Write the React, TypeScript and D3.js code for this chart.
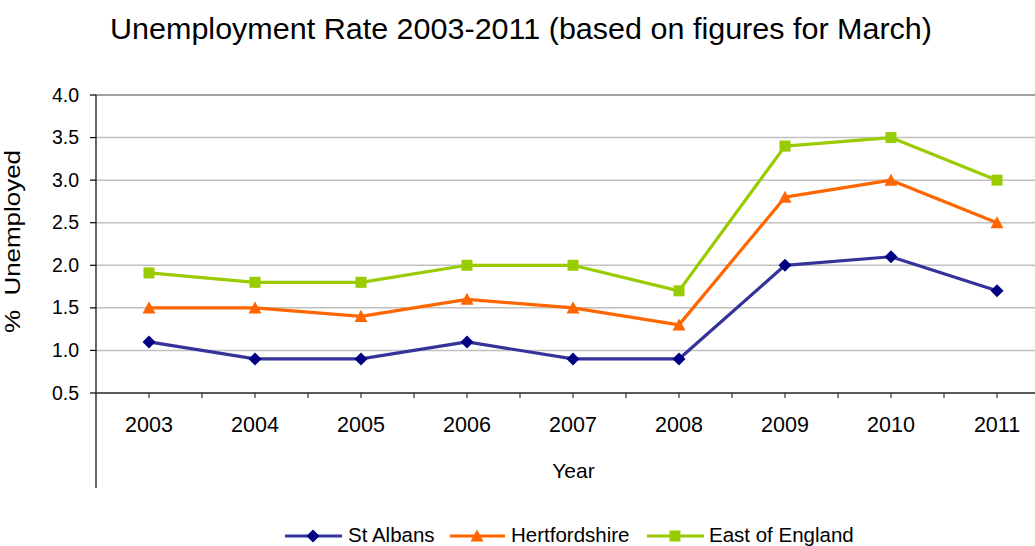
import React from "react";
import * as d3 from "d3";

const years = ["2003", "2004", "2005", "2006", "2007", "2008", "2009", "2010", "2011"];
const stAlbans = [1.1, 0.9, 0.9, 1.1, 0.9, 0.9, 2.0, 2.1, 1.7];
const hertfordshire = [1.5, 1.5, 1.4, 1.6, 1.5, 1.3, 2.8, 3.0, 2.5];
const eastOfEngland = [1.91, 1.8, 1.8, 2.0, 2.0, 1.7, 3.4, 3.5, 3.0];
const yTicks = [0.5, 1.0, 1.5, 2.0, 2.5, 3.0, 3.5, 4.0];

const series = [
  { name: "St Albans", values: stAlbans, line: "#333399", marker: "#000080", shape: "diamond" },
  { name: "Hertfordshire", values: hertfordshire, line: "#FF6600", marker: "#FF6600", shape: "triangle" },
  { name: "East of England", values: eastOfEngland, line: "#99CC00", marker: "#99CC00", shape: "square" },
];

const W = 1035;
const H = 546;
const left = 96;
const band = 106;
const top = 95;
const bottom = 393;
const FONT = "'Liberation Sans', Arial, sans-serif";

function Marker({ shape, x, y, color }: { shape: string; x: number; y: number; color: string }) {
  if (shape === "diamond") {
    const s = 6.5;
    return <path d={`M${x},${y - s}L${x + s},${y}L${x},${y + s}L${x - s},${y}Z`} fill={color} />;
  }
  if (shape === "triangle") {
    const s = 6.5;
    return <path d={`M${x},${y - s}L${x + s},${y + s * 0.85}L${x - s},${y + s * 0.85}Z`} fill={color} />;
  }
  const s = 5.5;
  return <rect x={x - s} y={y - s} width={2 * s} height={2 * s} fill={color} />;
}

export default function App() {
  const x = d3
    .scaleBand<string>()
    .domain(years)
    .range([left, left + band * years.length])
    .padding(0);
  const y = d3.scaleLinear().domain([0.5, 4.0]).range([bottom, top]);
  const cx = (yr: string) => (x(yr) as number) + x.bandwidth() / 2;

  const lineGen = d3
    .line<number>()
    .x((_, i) => cx(years[i]))
    .y((v) => y(v));

  const xTickPositions: number[] = [];
  years.forEach((yr) => {
    xTickPositions.push(cx(yr));
    xTickPositions.push((x(yr) as number) + x.bandwidth());
  });

  const legendItems = [
    { lx1: 285, lx2: 342, mx: 313, tx: 348 },
    { lx1: 450, lx2: 505, mx: 477, tx: 511 },
    { lx1: 647, lx2: 704, mx: 675, tx: 709 },
  ];
  const legendY = 536;

  return (
    <svg
      width={W}
      height={H}
      style={{ position: "absolute", left: 0, top: 0, background: "#fff" }}
      fontFamily={FONT}
    >
      <rect x={0} y={0} width={W} height={H} fill="#fff" />
      <text x={110} y={38.5} fontSize={30} textLength={822} lengthAdjust="spacingAndGlyphs" fill="#000">
        Unemployment Rate 2003-2011 (based on figures for March)
      </text>

      {yTicks.map((t) => (
        <line
          key={t}
          x1={left}
          x2={W}
          y1={y(t)}
          y2={y(t)}
          stroke={t === 4.0 ? "#808080" : "#c0c0c0"}
          strokeWidth={1.5}
        />
      ))}

      <line x1={left} x2={left} y1={top} y2={488} stroke="#000" strokeWidth={1.2} />
      {yTicks.map((t) => (
        <g key={"yt" + t}>
          <line x1={left - 6} x2={left} y1={y(t)} y2={y(t)} stroke="#000" strokeWidth={1.2} />
          <text x={79} y={y(t) + 6.5} fontSize={19.5} textAnchor="end" fill="#000">
            {t.toFixed(1)}
          </text>
        </g>
      ))}

      <line x1={left} x2={W} y1={bottom} y2={bottom} stroke="#333" strokeWidth={1.5} />
      {xTickPositions.map((p, i) => (
        <line key={"xt" + i} x1={p} x2={p} y1={bottom} y2={bottom + 5} stroke="#333" strokeWidth={1.2} />
      ))}
      {years.map((yr) => (
        <text key={"xl" + yr} x={cx(yr)} y={431.5} fontSize={21.5} textAnchor="middle" fill="#000">
          {yr}
        </text>
      ))}

      <text x={573.5} y={478} fontSize={21} textAnchor="middle" fill="#000">
        Year
      </text>
      <text
        transform={`translate(20,241.5) rotate(-90)`}
        fontSize={22}
        textAnchor="middle"
        textLength={183}
        lengthAdjust="spacingAndGlyphs"
        fill="#000"
      >
        {"%\u00A0\u00A0Unemployed"}
      </text>

      {series.map((s) => (
        <g key={s.name}>
          <path d={lineGen(s.values) || ""} fill="none" stroke={s.line} strokeWidth={3.2} strokeLinejoin="round" />
          {s.values.map((v, i) => (
            <Marker key={i} shape={s.shape} x={cx(years[i])} y={y(v)} color={s.marker} />
          ))}
        </g>
      ))}

      {series.map((s, i) => {
        const it = legendItems[i];
        return (
          <g key={"lg" + s.name}>
            <line x1={it.lx1} x2={it.lx2} y1={legendY} y2={legendY} stroke={s.line} strokeWidth={3.2} />
            <Marker shape={s.shape} x={it.mx} y={legendY} color={s.marker} />
            <text x={it.tx} y={542} fontSize={20.5} fill="#000">
              {s.name}
            </text>
          </g>
        );
      })}
    </svg>
  );
}
